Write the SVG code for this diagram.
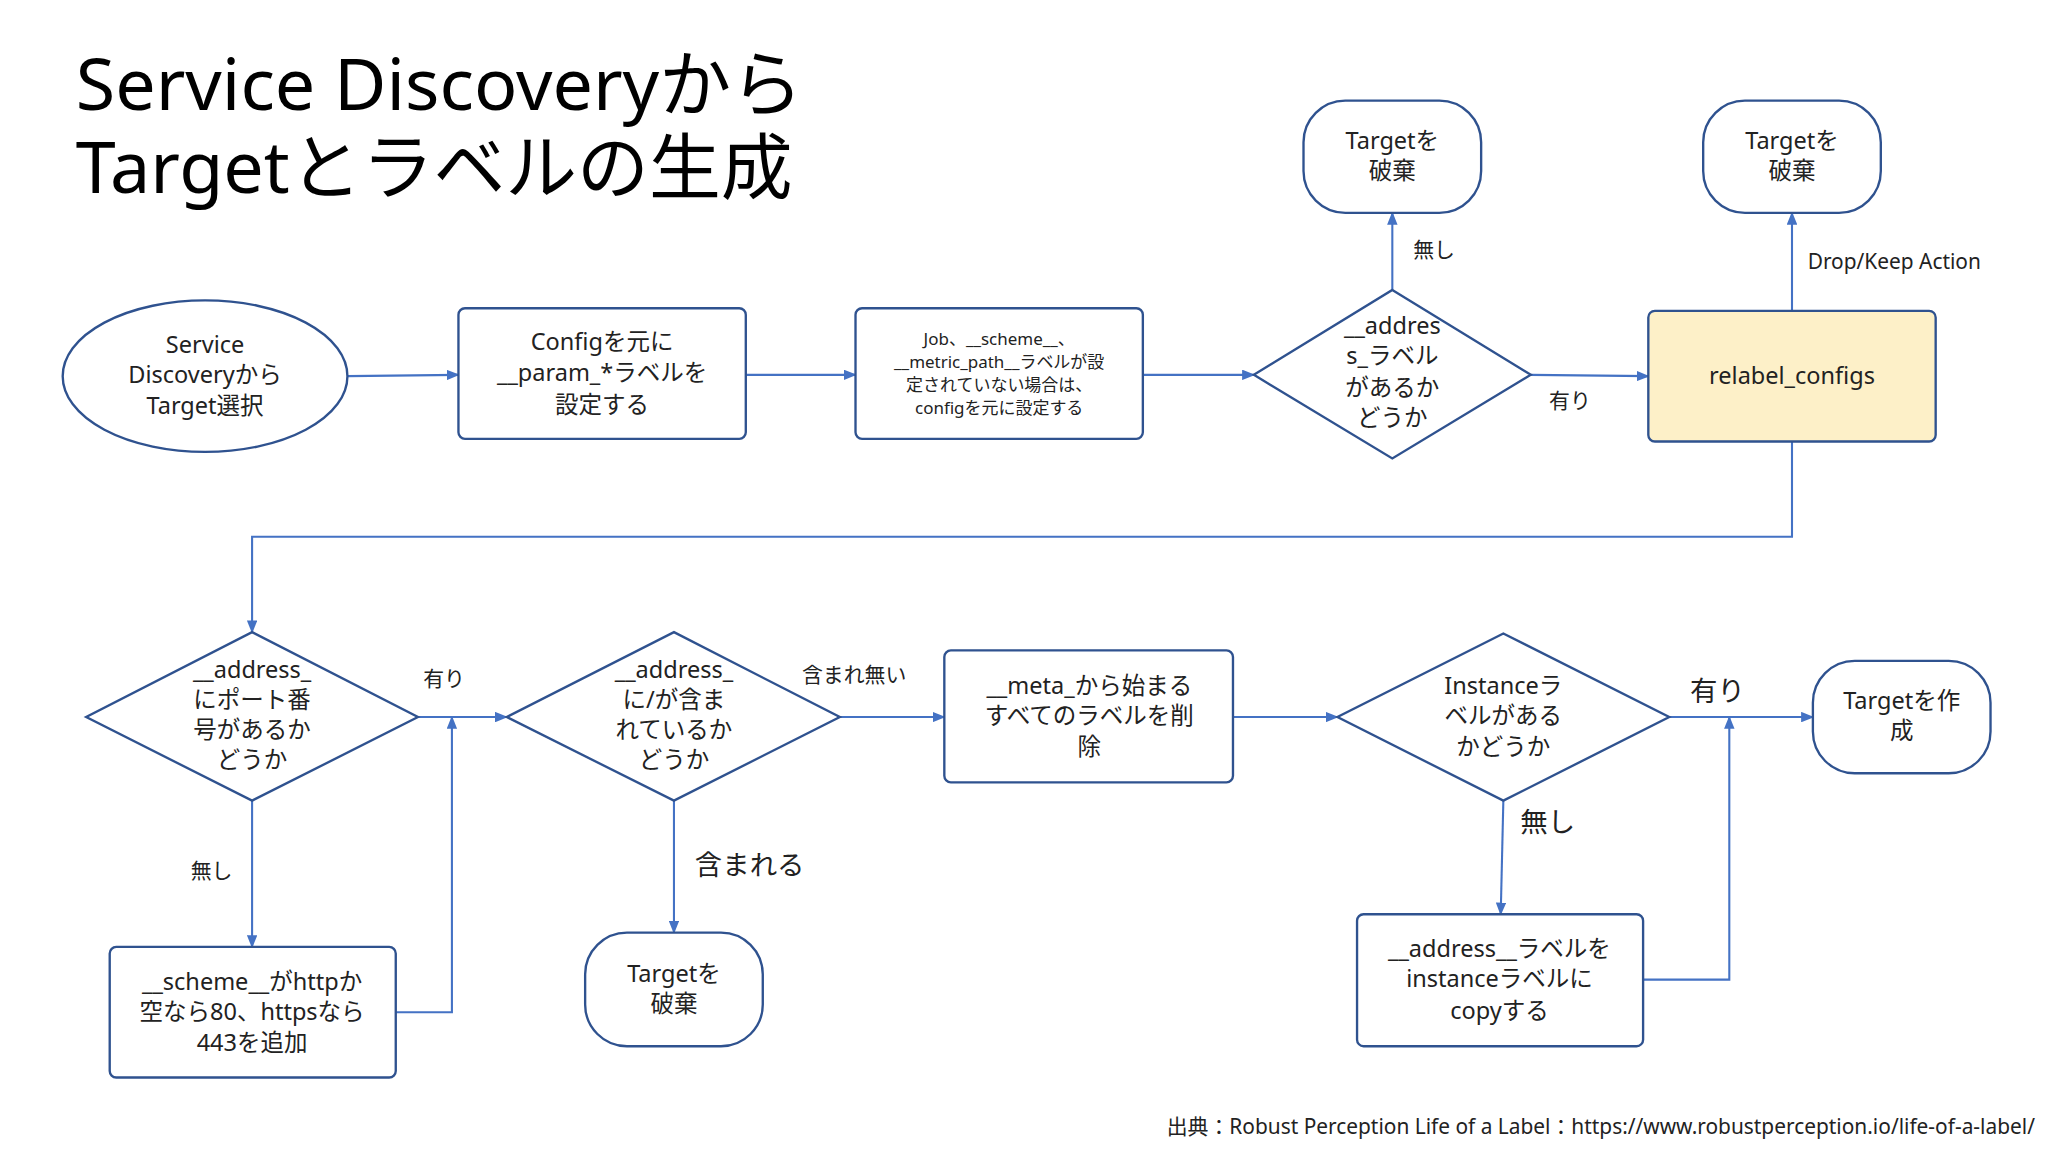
<svg xmlns="http://www.w3.org/2000/svg" width="2048" height="1152" viewBox="0 0 2048 1152">
<defs>
<marker id="ah" markerWidth="10" markerHeight="8" refX="9" refY="4" orient="auto" markerUnits="userSpaceOnUse"><path d="M0,0 L10,4 L0,8 z" fill="#4472c4"/></marker>
<style>
.s{fill:#fff;stroke:#2f528f;stroke-width:1.8}
.y{fill:#fdf0c8;stroke:#2f528f;stroke-width:1.8}
.c{fill:none;stroke:#4472c4;stroke-width:1.6;marker-end:url(#ah)}
.l{fill:none;stroke:#4472c4;stroke-width:1.6}
text{font-family:"Noto Sans","Noto Sans CJK JP",sans-serif;fill:#222;font-size:18px;text-anchor:middle}
.sm{font-size:13px}
.lb{font-size:16px;text-anchor:start}
.big{font-size:21px;text-anchor:start}
.t{font-size:55px;text-anchor:start;fill:#000}
</style>
</defs>
<rect width="2048" height="1152" fill="#fff"/>
<g transform="scale(1.30612)">
<text class="t" x="58" y="84">Service Discoveryから</text>
<text class="t" x="58" y="148">Targetとラベルの生成</text>
<g id="connectors">
<path class="c" d="M266,288 L351,287"/>
<path class="c" d="M571,287 L655,287"/>
<path class="c" d="M875,287 L960,287"/>
<path class="c" d="M1066,222 L1066,163"/>
<path class="c" d="M1172,287 L1262,288"/>
<path class="c" d="M1372,238 L1372,163"/>
<path class="c" d="M1372,338 L1372,411 L193,411 L193,484"/>
<path class="c" d="M320,549 L388,549"/>
<path class="c" d="M193,613 L193,725"/>
<path class="c" d="M303,775 L346,775 L346,549"/>
<path class="c" d="M643,549 L723,549"/>
<path class="c" d="M516,613 L516,714"/>
<path class="c" d="M944,549 L1024,549"/>
<path class="c" d="M1278,549 L1388,549"/>
<path class="c" d="M1151,613 L1149,700"/>
<path class="c" d="M1258,750 L1324,750 L1324,549"/>
<text class="lb" x="1082" y="197">無し</text>
<text class="lb" x="1384" y="206">Drop/Keep Action</text>
<text class="lb" x="1186" y="312">有り</text>
<text class="lb" x="324" y="525">有り</text>
<text class="lb" x="146" y="672">無し</text>
<text class="lb" x="614" y="522">含まれ無い</text>
<text class="big" x="532" y="670">含まれる</text>
<text class="big" x="1294" y="537">有り</text>
<text class="big" x="1164" y="637">無し</text>
</g>
<g id="n1"><ellipse class="s" cx="157" cy="288" rx="109" ry="58"/><text x="157" y="270">Service</text><text x="157" y="293">Discoveryから</text><text x="157" y="317">Target選択</text></g>
<g id="n2"><rect class="s" x="351" y="236" width="220" height="100" rx="5"/><text x="461" y="268">Configを元に</text><text x="461" y="292">__param_*ラベルを</text><text x="461" y="316">設定する</text></g>
<g id="n3"><rect class="s" x="655" y="236" width="220" height="100" rx="5"/><text class="sm" x="765" y="264">Job、__scheme__、</text><text class="sm" x="765" y="282">__metric_path__ラベルが設</text><text class="sm" x="765" y="299">定されていない場合は、</text><text class="sm" x="765" y="317">configを元に設定する</text></g>
<g id="n4"><path class="s" d="M1066,222 L1172,287 L1066,351 L960,287 z"/><text x="1066" y="256">__addres</text><text x="1066" y="279">s_ラベル</text><text x="1066" y="303">があるか</text><text x="1066" y="326">どうか</text></g>
<g id="n5"><rect class="s" x="998" y="77" width="136" height="86" rx="32"/><text x="1066" y="114">Targetを</text><text x="1066" y="137">破棄</text></g>
<g id="n6"><rect class="s" x="1304" y="77" width="136" height="86" rx="32"/><text x="1372" y="114">Targetを</text><text x="1372" y="137">破棄</text></g>
<g id="n7"><rect class="y" x="1262" y="238" width="220" height="100" rx="5"/><text x="1372" y="294">relabel_configs</text></g>
<g id="n8"><path class="s" d="M193,484 L320,549 L193,613 L66,549 z"/><text x="193" y="519">__address_</text><text x="193" y="542">にポート番</text><text x="193" y="565">号があるか</text><text x="193" y="588">どうか</text></g>
<g id="n9"><rect class="s" x="84" y="725" width="219" height="100" rx="5"/><text x="193" y="758">__scheme__がhttpか</text><text x="193" y="781">空なら80、httpsなら</text><text x="193" y="805">443を追加</text></g>
<g id="n10"><path class="s" d="M516,484 L643,549 L516,613 L388,549 z"/><text x="516" y="519">__address_</text><text x="516" y="542">に/が含ま</text><text x="516" y="565">れているか</text><text x="516" y="588">どうか</text></g>
<g id="n11"><rect class="s" x="448" y="714" width="136" height="87" rx="32"/><text x="516" y="752">Targetを</text><text x="516" y="775">破棄</text></g>
<g id="n12"><rect class="s" x="723" y="498" width="221" height="101" rx="5"/><text x="834" y="531">__meta_から始まる</text><text x="834" y="554">すべてのラベルを削</text><text x="834" y="578">除</text></g>
<g id="n13"><path class="s" d="M1151,485 L1278,549 L1151,613 L1024,549 z"/><text x="1151" y="531">Instanceラ</text><text x="1151" y="554">ベルがある</text><text x="1151" y="578">かどうか</text></g>
<g id="n14"><rect class="s" x="1388" y="506" width="136" height="86" rx="32"/><text x="1456" y="543">Targetを作</text><text x="1456" y="566">成</text></g>
<g id="n15"><rect class="s" x="1039" y="700" width="219" height="101" rx="5"/><text x="1148" y="733">__address__ラベルを</text><text x="1148" y="756">instanceラベルに</text><text x="1148" y="780">copyする</text></g>
<text x="1558" y="868" style="font-size:16px;text-anchor:end">出典：Robust Perception Life of a Label：https://www.robustperception.io/life-of-a-label/</text>
</g>
</svg>
